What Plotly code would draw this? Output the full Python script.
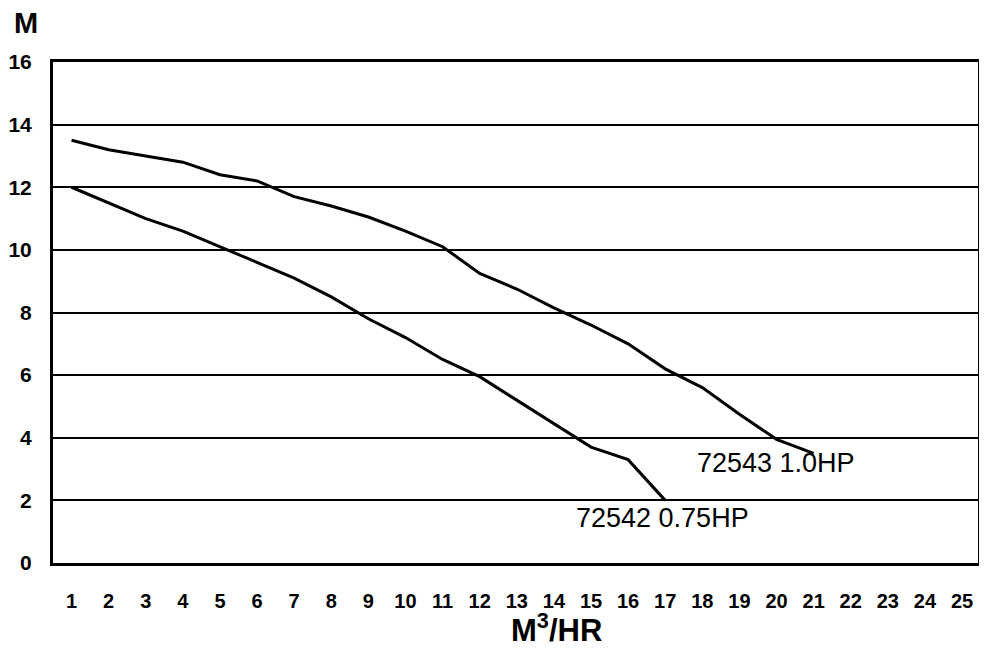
import plotly.graph_objects as go

flow_10hp = [1, 2, 3, 4, 5, 6, 7, 8, 9, 10, 11, 12, 13, 14, 15, 16, 17, 18, 19, 20, 21]
head_10hp = [13.5, 13.2, 13.0, 12.8, 12.4, 12.2, 11.7, 11.4, 11.05, 10.6, 10.1, 9.25, 8.75, 8.15, 7.6, 7.0, 6.2, 5.6, 4.75, 3.95, 3.5]

flow_075hp = [1, 2, 3, 4, 5, 6, 7, 8, 9, 10, 11, 12, 13, 14, 15, 16, 17]
head_075hp = [12.0, 11.5, 11.0, 10.6, 10.1, 9.6, 9.1, 8.5, 7.8, 7.2, 6.5, 5.95, 5.2, 4.45, 3.7, 3.3, 2.0]

x_ticks = list(range(1, 26))
y_ticks = [0, 2, 4, 6, 8, 10, 12, 14, 16]

label_10hp = "72543 1.0HP"
label_075hp = "72542 0.75HP"

fig = go.Figure()
fig.add_trace(go.Scatter(x=flow_10hp, y=head_10hp, mode="lines",
                         line=dict(color="black", width=3), showlegend=False))
fig.add_trace(go.Scatter(x=flow_075hp, y=head_075hp, mode="lines",
                         line=dict(color="black", width=3), showlegend=False))

arial = "Liberation Sans, Arial, sans-serif"

fig.update_layout(
    template="none",
    width=979, height=641,
    margin=dict(l=45, r=9, t=54, b=86, autoexpand=False),
    paper_bgcolor="white", plot_bgcolor="white",
    xaxis=dict(range=[0.5, 25.43], tickvals=x_ticks, showgrid=False, zeroline=False,
               showline=True, linecolor="black", linewidth=3, mirror=True,
               ticks="", ticklabelstandoff=18, automargin=False,
               tickfont=dict(family=arial, size=20, color="black", weight="bold")),
    yaxis=dict(range=[0, 16], tickvals=y_ticks, showgrid=True, gridcolor="black", gridwidth=2,
               zeroline=False, showline=True, linecolor="black", linewidth=3, mirror=True,
               ticks="", ticklabelstandoff=14, automargin=False,
               tickfont=dict(family=arial, size=21, color="black", weight="bold")),
    annotations=[
        dict(text="M", xref="paper", yref="paper", x=-0.0292, y=1.0, yshift=39,
             showarrow=False, xanchor="center", yanchor="middle",
             font=dict(family=arial, size=29, color="black", weight="bold")),
        dict(text="M<sup>3</sup>/HR", xref="x", yref="paper", x=14.06, y=0, yshift=-65,
             showarrow=False, xanchor="center", yanchor="middle",
             font=dict(family=arial, size=31, color="black", weight="bold")),
        dict(text=label_10hp, xref="x", yref="y", x=flow_10hp[-1], y=head_10hp[-1],
             xshift=-38, yshift=-10, showarrow=False, xanchor="center", yanchor="middle",
             font=dict(family=arial, size=27, color="black")),
        dict(text=label_075hp, xref="x", yref="y", x=flow_075hp[-1], y=head_075hp[-1],
             xshift=-3, yshift=-18, showarrow=False, xanchor="center", yanchor="middle",
             font=dict(family=arial, size=27, color="black")),
    ],
)

fig.write_html("out.html")
